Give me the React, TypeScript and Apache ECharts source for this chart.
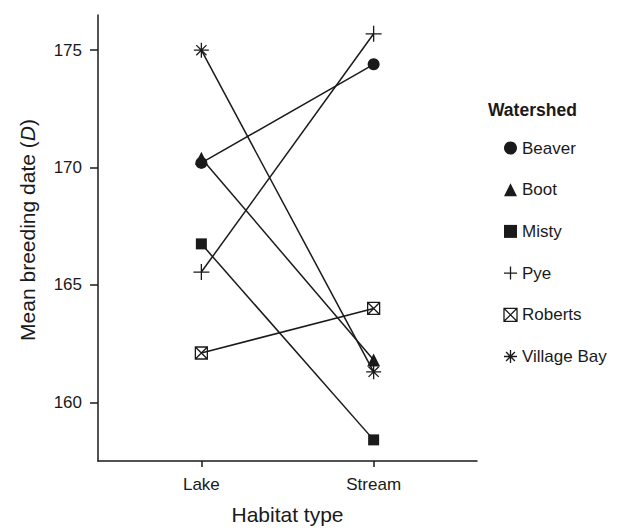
import React, { useEffect, useRef } from "react";
import * as echarts from "echarts";

const habitats = ["Lake", "Stream"];
const habitatPos = [1, 2];
const yTicks = [160, 165, 170, 175];
const watersheds = ["Beaver", "Boot", "Misty", "Pye", "Roberts", "Village Bay"];
const beaver = [170.2, 174.4];
const boot = [170.4, 161.8];
const misty = [166.75, 158.4];
const pye = [165.55, 175.7];
const roberts = [162.1, 164.0];
const villageBay = [175.0, 161.3];

const FONT = "'Liberation Sans', Arial, Helvetica, sans-serif";
const INK = "#1a1a1a";

const PLUS = "path://M0,5L10,5M5,0L5,10";
const STAR = "path://M5,0L5,10M0,5L10,5M1.6,1.6L8.4,8.4M8.4,1.6L1.6,8.4";
const BOXX = "path://M0,0L10,0L10,10L0,10ZM0,0L10,10M10,0L0,10";

type Sym = { symbol: string; size: number; filled: boolean };
const symbols: Sym[] = [
  { symbol: "circle", size: 12, filled: true },
  { symbol: "triangle", size: 13, filled: true },
  { symbol: "rect", size: 11, filled: true },
  { symbol: PLUS, size: 16, filled: false },
  { symbol: BOXX, size: 12, filled: false },
  { symbol: STAR, size: 15, filled: false },
];
const values = [beaver, boot, misty, pye, roberts, villageBay];

export default function App() {
  const ref = useRef<HTMLDivElement>(null);
  useEffect(() => {
    if (!ref.current) return;
    const chart = echarts.init(ref.current, undefined, { renderer: "svg" });
    const itemStyleFor = (s: Sym) =>
      s.filled
        ? { color: INK, borderWidth: 0 }
        : { color: "none", borderColor: INK, borderWidth: 1.3 };
    const series = watersheds.map((name, i) => ({
      name,
      type: "line",
      data: habitatPos.map((x, j) => [x, values[i][j]]),
      symbol: symbols[i].symbol,
      symbolSize: symbols[i].size,
      symbolKeepAspect: true,
      itemStyle: itemStyleFor(symbols[i]),
      lineStyle: { color: INK, width: 1.5 },
      emphasis: { disabled: true },
      z: 2,
    }));
    chart.setOption({
      animation: false,
      backgroundColor: "#ffffff",
      title: {
        text: "Watershed",
        left: 488,
        top: 101,
        padding: 0,
        textStyle: { fontFamily: FONT, fontSize: 17.5, fontWeight: "bold", color: INK },
      },
      legend: {
        orient: "vertical",
        left: 501.5,
        top: 138,
        padding: 0,
        itemWidth: 13,
        itemHeight: 13,
        itemGap: 21.7,
        itemTextGap: 11,
        selectedMode: false,
        textStyle: { fontFamily: FONT, fontSize: 17, color: INK, lineHeight: 20 },
        data: watersheds.map((name, i) => ({
          name,
          icon: symbols[i].symbol,
          itemStyle: itemStyleFor(symbols[i]),
        })),
      },
      grid: { left: 98, top: 15, width: 379, height: 451 },
      xAxis: {
        type: "value",
        min: 0.4,
        max: 2.6,
        name: "Habitat type",
        nameLocation: "middle",
        nameGap: 43,
        nameTextStyle: { fontFamily: FONT, fontSize: 21, color: INK },
        axisLine: { show: true, lineStyle: { color: INK, width: 1.5 } },
        axisTick: { show: true, length: 6, customValues: habitatPos, lineStyle: { color: INK, width: 1.5 } },
        axisLabel: {
          customValues: habitatPos,
          margin: 15,
          fontFamily: FONT,
          fontSize: 17,
          color: INK,
          formatter: (v: number) => habitats[habitatPos.indexOf(Math.round(v))] ?? "",
        },
        splitLine: { show: false },
      },
      yAxis: {
        type: "value",
        min: 157.5,
        max: 176.5,
        axisLine: { show: true, lineStyle: { color: INK, width: 1.5 } },
        axisTick: { show: true, length: 8, customValues: yTicks, lineStyle: { color: INK, width: 1.5 } },
        axisLabel: {
          customValues: yTicks,
          margin: 16,
          fontFamily: FONT,
          fontSize: 17,
          color: INK,
        },
        splitLine: { show: false },
      },
      graphic: [
        {
          type: "text",
          x: 27,
          y: 230,
          rotation: Math.PI / 2,
          style: {
            text: "Mean breeding date ({i|D})",
            fontFamily: FONT,
            fontSize: 21,
            fill: INK,
            textAlign: "center",
            textVerticalAlign: "middle",
            rich: { i: { fontStyle: "italic", fontFamily: FONT, fontSize: 21, fill: INK } },
          },
        },
      ],
      series,
    });
    return () => chart.dispose();
  }, []);
  return (
    <div
      ref={ref}
      style={{ position: "fixed", left: 0, top: 0, width: 624, height: 530, background: "#fff" }}
    />
  );
}
